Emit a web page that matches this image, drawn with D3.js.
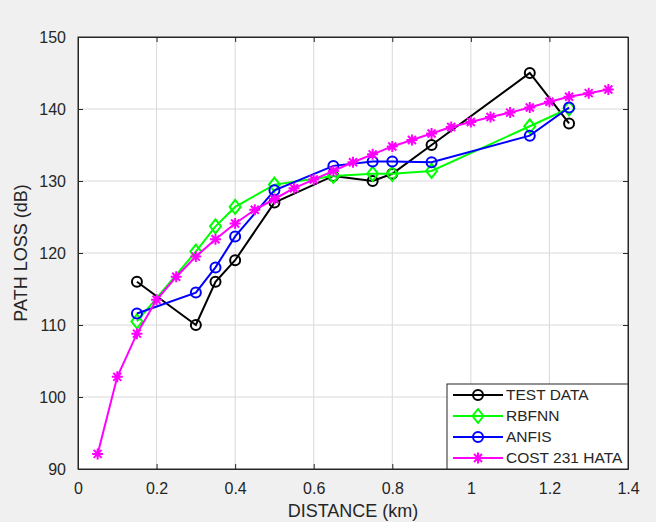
<!DOCTYPE html>
<html>
<head>
<meta charset="utf-8">
<script src="https://cdn.jsdelivr.net/npm/d3@7"></script>
<style>
  html, body { margin: 0; padding: 0; background: #f0f0f0; }
  svg { display: block; font-family: 'Liberation Sans', Arial, sans-serif; }
</style>
</head>
<body>
<div id="container"></div>
<script>
// distances shared by test data and the two models (km)
const distance = [0.15, 0.3, 0.35, 0.4, 0.5, 0.65, 0.75, 0.8, 0.9, 1.15, 1.25];
const testData = [116, 110, 116, 119, 127, 130.7, 130, 131, 135, 145, 138];
const rbfnn = [110.5, 120.2, 123.7, 126.4, 129.5, 130.7, 131.0, 131.0, 131.4, 137.6, 140.1];
const anfis = [111.6, 114.5, 118.0, 122.3, 128.7, 132.1, 132.7, 132.7, 132.6, 136.3, 140.2];

const hataDistance = [0.05, 0.1, 0.15, 0.2, 0.25, 0.3, 0.35, 0.4, 0.45, 0.5, 0.55, 0.6, 0.65, 0.7,
    0.75, 0.8, 0.85, 0.9, 0.95, 1.0, 1.05, 1.1, 1.15, 1.2, 1.25, 1.3, 1.35];
const hata = [92.1, 102.8, 108.8, 113.5, 116.7, 119.5, 121.9, 124.1, 126.0, 127.5, 129.0, 130.2, 131.4, 132.6,
    133.7, 134.8, 135.7, 136.6, 137.5, 138.2, 138.9, 139.5, 140.2, 141.0, 141.7, 142.2, 142.7];

const xTicks = [0, 0.2, 0.4, 0.6, 0.8, 1, 1.2, 1.4];
const yTicks = [90, 100, 110, 120, 130, 140, 150];

const series = [
    { name: 'TEST DATA', x: distance, y: testData, color: '#000000', marker: 'circle' },
    { name: 'RBFNN', x: distance, y: rbfnn, color: '#00ff00', marker: 'diamond' },
    { name: 'ANFIS', x: distance, y: anfis, color: '#0000ff', marker: 'circle' },
    { name: 'COST 231 HATA', x: hataDistance, y: hata, color: '#ff00ff', marker: 'star' }
];

const W = 656, H = 522;
const margin = { top: 37, right: 28, bottom: 53, left: 78 };
const width = W - margin.left - margin.right;
const height = H - margin.top - margin.bottom;
const axisColor = '#262626';

const root = d3.select('#container')
    .append('svg')
    .attr('width', W)
    .attr('height', H);

const svg = root.append('g')
    .attr('transform', `translate(${margin.left}, ${margin.top})`);

const x = d3.scaleLinear().domain([0, 1.4]).range([0, width]);
const y = d3.scaleLinear().domain([90, 150]).range([height, 0]);

svg.append('rect')
    .attr('width', width)
    .attr('height', height)
    .attr('fill', '#ffffff');

// grid
svg.append('g')
    .selectAll('line')
    .data(xTicks.slice(1, -1)).enter()
    .append('line')
    .attr('x1', d => x(d)).attr('x2', d => x(d))
    .attr('y1', 0).attr('y2', height)
    .attr('stroke', '#d9d9d9')
    .attr('stroke-width', 1);

svg.append('g')
    .selectAll('line')
    .data(yTicks.slice(1, -1)).enter()
    .append('line')
    .attr('x1', 0).attr('x2', width)
    .attr('y1', d => y(d)).attr('y2', d => y(d))
    .attr('stroke', '#d9d9d9')
    .attr('stroke-width', 1);

// axes, ticks pointing inward on all four sides
const styleAxis = (g) => {
    g.select('.domain').attr('stroke', axisColor);
    g.selectAll('.tick line').attr('stroke', axisColor);
    g.selectAll('.tick text')
        .attr('fill', axisColor)
        .attr('font-size', 16)
        .attr('font-family', "'Liberation Sans', Arial, sans-serif");
};

svg.append('g')
    .attr('transform', `translate(0, ${height})`)
    .call(d3.axisBottom(x).tickValues(xTicks).tickFormat(d => d).tickSizeInner(-5).tickSizeOuter(0).tickPadding(14))
    .call(styleAxis);

svg.append('g')
    .call(d3.axisTop(x).tickValues(xTicks).tickFormat('').tickSizeInner(-5).tickSizeOuter(0))
    .call(styleAxis);

svg.append('g')
    .call(d3.axisLeft(y).tickValues(yTicks).tickFormat(d => d).tickSizeInner(-5).tickSizeOuter(0).tickPadding(12))
    .call(styleAxis);

svg.append('g')
    .attr('transform', `translate(${width}, 0)`)
    .call(d3.axisRight(y).tickValues(yTicks).tickFormat('').tickSizeInner(-5).tickSizeOuter(0))
    .call(styleAxis);

// axis labels
svg.append('text')
    .attr('x', width / 2)
    .attr('y', height + 48)
    .attr('text-anchor', 'middle')
    .attr('fill', axisColor)
    .attr('font-size', 18)
    .text('DISTANCE (km)');

svg.append('text')
    .attr('transform', `translate(${-51}, ${height / 2}) rotate(-90)`)
    .attr('text-anchor', 'middle')
    .attr('fill', axisColor)
    .attr('font-size', 18)
    .text('PATH LOSS (dB)');

// markers
const drawMarker = (g, type, color) => {
    if (type === 'circle') {
        g.append('circle').attr('r', 5)
            .attr('fill', 'none').attr('stroke', color).attr('stroke-width', 2);
    } else if (type === 'diamond') {
        g.append('path').attr('d', 'M0,-7L5.5,0L0,7L-5.5,0Z')
            .attr('fill', 'none').attr('stroke', color).attr('stroke-width', 2);
    } else {
        const s = 5.5, d = 4;
        g.append('path')
            .attr('d', `M0,${-s}V${s}M${-s},0H${s}M${-d},${-d}L${d},${d}M${-d},${d}L${d},${-d}`)
            .attr('fill', 'none').attr('stroke', color).attr('stroke-width', 2);
    }
};

const line = d3.line().x(d => x(d[0])).y(d => y(d[1]));

series.forEach(s => {
    const pts = s.x.map((d, i) => [d, s.y[i]]);
    const g = svg.append('g');
    g.append('path')
        .attr('d', line(pts))
        .attr('fill', 'none')
        .attr('stroke', s.color)
        .attr('stroke-width', 2);
    g.selectAll('g.marker')
        .data(pts).enter()
        .append('g')
        .attr('class', 'marker')
        .attr('transform', d => `translate(${x(d[0])}, ${y(d[1])})`)
        .each(function () { drawMarker(d3.select(this), s.marker, s.color); });
});

// frame on top
svg.append('rect')
    .attr('width', width)
    .attr('height', height)
    .attr('fill', 'none')
    .attr('stroke', axisColor)
    .attr('stroke-width', 1);

// legend in lower right corner
const legW = 181, legH = 85;
const legend = svg.append('g')
    .attr('transform', `translate(${width - legW}, ${height - legH})`);

legend.append('rect')
    .attr('width', legW)
    .attr('height', legH)
    .attr('fill', '#ffffff')
    .attr('stroke', axisColor)
    .attr('stroke-width', 1);

series.forEach((s, i) => {
    const row = legend.append('g')
        .attr('transform', `translate(0, ${11 + i * 21})`);
    row.append('line')
        .attr('x1', 6).attr('x2', 56)
        .attr('stroke', s.color)
        .attr('stroke-width', 2);
    const m = row.append('g').attr('transform', 'translate(31, 0)');
    drawMarker(m, s.marker, s.color);
    row.append('text')
        .attr('x', 59)
        .attr('dy', '0.35em')
        .attr('fill', axisColor)
        .attr('font-size', 15.5)
        .text(s.name);
});
</script>
</body>
</html>
